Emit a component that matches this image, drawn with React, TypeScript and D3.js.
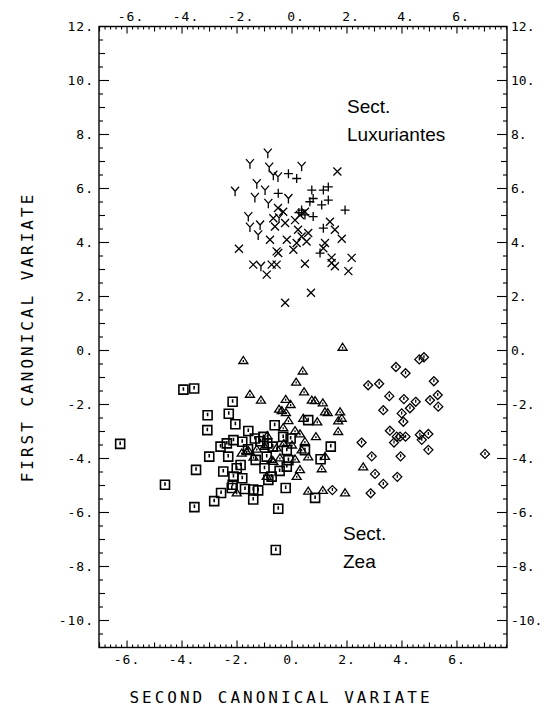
import * as d3 from 'd3';

// canonical variate scores: [second, first]
const luxYMarks = [
  [-0.88, 7.31], [-1.53, 6.92], [-0.83, 6.79], [0.35, 6.82], [-2.07, 5.9], [-1.28, 6.18],
  [-0.98, 5.94], [-1.35, 5.67], [-0.68, 6.49], [-0.51, 6.43], [-0.13, 5.63], [-1.59, 4.96],
  [-1.53, 4.57], [-1.16, 4.65], [-1.23, 4.28], [-1.13, 3.12], [-0.86, 5.45], [-0.47, 4.91],
];
const luxPlusMarks = [
  [-0.13, 6.55], [0.17, 6.37], [0.72, 5.94], [0.77, 5.63], [1.14, 5.94], [1.32, 6.06],
  [1.32, 5.57], [1.08, 5.39], [1.93, 5.2], [0.77, 4.96], [0.47, 5.02], [-0.5, 5.82],
  [1.02, 3.61], [1.14, 4.53], [0.35, 5.2], [0.65, 5.51], [0.25, 5.11],
];
const luxCrossMarks = [
  [1.65, 6.63], [-1.93, 3.77], [-1.41, 3.18], [-0.92, 2.81], [0.47, 3.21], [0.69, 2.14],
  [-0.25, 1.77], [2.17, 3.43], [2.05, 2.94], [1.44, 3.24], [1.44, 3.44], [1.56, 3.12],
  [1.81, 4.14], [1.56, 4.47], [1.38, 4.77], [1.2, 3.98], [1.14, 3.79], [0.59, 4.35],
  [0.35, 4.22], [0.53, 4.04], [0.17, 3.98], [0.05, 3.73], [-0.56, 3.67], [-0.5, 3.61],
  [-0.74, 3.18], [-0.56, 3.18], [-0.8, 4.1], [-0.62, 4.59], [0.22, 4.47], [-0.19, 4.1],
  [-0.68, 4.9], [0.11, 4.83], [0.29, 5.02], [0.47, 5.14], [-0.51, 5.28], [-0.32, 5.14],
  [-0.25, 4.72],
];
const zeaSquares = [
  [-6.25, -3.46], [-4.62, -4.97], [-3.55, -5.8], [-3.95, -1.45], [-3.56, -1.41], [-2.16, -1.9],
  [-3.07, -2.4], [-2.3, -2.34], [-2.06, -2.73], [-3.08, -2.95], [-1.59, -2.98], [-3.01, -3.93],
  [-3.49, -4.42], [-2.83, -5.58], [-2.58, -5.28], [-2.5, -4.48], [-2.32, -3.93], [-2.16, -4.97],
  [-2.01, -4.36], [-1.87, -4.24], [-2.13, -4.67], [-1.81, -4.73], [-1.71, -5.13], [-1.41, -5.15],
  [-1.41, -5.52], [-1.23, -5.18], [-0.5, -5.86], [-0.59, -7.39], [-0.23, -5.09], [-0.63, -2.77],
  [-1.04, -3.2], [-1.35, -3.26], [-1.81, -3.38], [-2.13, -3.32], [-2.37, -3.44], [-0.32, -3.2],
  [-1.32, -4.05], [-0.92, -3.93], [-0.86, -4.79], [-0.74, -4.67], [-0.19, -4.3], [-0.9, -3.44],
  [-2.19, -5.09], [1.41, -3.56], [1.04, -4.03], [0.59, -2.58], [0.47, -3.69], [0.84, -5.46],
  [-0.19, -3.69], [-0.13, -4.06], [-1.15, -3.36], [-0.7, -3.56], [-1.6, -3.66], [-0.45, -4.46],
  [-1.0, -4.36], [-2.6, -3.56], [-0.05, -3.26],
];
const zeaTriangles = [
  [-1.77, -0.37], [-1.53, -1.62], [-1.13, -1.84], [-0.23, -1.81], [0.15, -1.17], [-0.47, -2.17],
  [-0.22, -2.3], [-0.13, -2.6], [0.11, -2.97], [-1.65, -3.74], [-1.83, -3.8], [-0.68, -4.11],
  [-0.92, -4.66], [0.17, -4.66], [-2.01, -5.27], [-1.59, -3.7], [-1.28, -3.65], [-0.74, -4.04],
  [-0.44, -3.98], [-0.56, -3.61], [0.39, -0.76], [0.44, -1.53], [0.72, -1.84], [0.84, -1.86],
  [1.12, -1.94], [-0.37, -2.23], [1.2, -2.27], [1.75, -2.27], [1.81, -2.51], [0.41, -2.51],
  [0.92, -2.64], [1.68, -3.0], [0.29, -3.09], [0.87, -3.19], [0.47, -3.37], [0.35, -3.68],
  [0.59, -3.94], [0.11, -4.02], [1.2, -3.92], [1.08, -4.38], [0.29, -4.41], [0.59, -5.21],
  [1.12, -5.18], [1.93, -5.27], [2.59, -4.31], [1.84, 0.12], [1.68, -2.61], [-0.32, -2.86],
  [-1.0, -3.55], [-0.3, -3.45], [-0.9, -3.15], [0.0, -3.5], [-1.4, -3.95], [-0.05, -2.0],
  [1.3, -2.3],
];
const zeaDiamonds = [
  [3.78, -0.61], [4.13, -0.84], [4.63, -0.33], [4.8, -0.25], [2.77, -1.29], [3.17, -1.23],
  [5.16, -1.14], [3.54, -1.69], [4.07, -1.8], [3.32, -2.21], [3.99, -2.33], [4.29, -2.14],
  [4.5, -1.9], [5.02, -1.84], [5.3, -1.65], [5.32, -2.08], [4.05, -2.64], [3.56, -2.97],
  [3.81, -3.19], [4.13, -3.19], [3.71, -3.41], [4.65, -3.12], [4.96, -3.09], [4.72, -3.31],
  [4.96, -3.68], [3.95, -3.92], [2.53, -3.41], [2.9, -3.92], [3.02, -4.57], [3.32, -4.94],
  [3.83, -4.68], [2.86, -5.29], [1.47, -5.17], [7.02, -3.83], [3.93, -3.19],
];

const xTickValues = [-6, -4, -2, 0, 2, 4, 6];
const yTickValues = [12, 10, 8, 6, 4, 2, 0, -2, -4, -6, -8, -10];
const xTitle = 'SECOND CANONICAL VARIATE';
const yTitle = 'FIRST CANONICAL VARIATE';

// marker shapes, centred on 0,0
const symbolY = 'M0,0L0,5M0,0L-4,-4.5M0,0L4,-4.5';
const symbolPlus = 'M-4.5,0L4.5,0M0,-4.5L0,4.5';
const symbolCross = 'M-4,-4L4,4M-4,4L4,-4';
const symbolSquare = 'M-4.5,-4.5H4.5V4.5H-4.5ZM0,-2.5V1';
const symbolTriangle = 'M0,-4L4.5,3H-4.5ZM0,-0.5V1.5';
const symbolDiamond = 'M0,-4.5L4.5,0L0,4.5L-4.5,0ZM0,-2V1';

export default function App() {
  const width = 545;
  const height = 708;
  const left = 99;
  const right = 507;
  const top = 26.5;
  const bottom = 647.5;

  const x = d3.scaleLinear().domain([-7.02, 7.82]).range([left, right]);
  const y = d3.scaleLinear().domain([-11, 12]).range([bottom, top]);

  // minor ticks: x every 0.2, y every 0.5
  const xMinor = d3.range(-35, 40).map((i) => i / 5);
  const yMinor = d3.range(-22, 25).map((i) => i / 2);

  const xTickLen = (v: number) => {
    const r = Math.round(v * 5);
    if (r % 10 === 0) return 7;
    if (r % 5 === 0) return 5;
    return 3;
  };
  const yTickLen = (v: number) => {
    const r = Math.round(v * 2);
    if (r % 4 === 0) return 10;
    if (r % 2 === 0) return 6;
    return 4;
  };

  const drawMarks = (data: number[][], d: string, key: string, sw = 1.3) =>
    data.map((p, i) => (
      <path
        key={key + i}
        d={d}
        transform={`translate(${x(p[0])},${y(p[1])})`}
        fill="none"
        stroke="#000"
        strokeWidth={sw}
      />
    ));

  const mono = 'DejaVu Sans Mono, monospace';
  const sans = 'Liberation Sans, Arial, sans-serif';

  return (
    <svg
      width={width}
      height={height}
      style={{ position: 'absolute', left: 0, top: 0, background: '#fff' }}
    >
      <rect x={left} y={top} width={right - left} height={bottom - top} fill="none" stroke="#000" strokeWidth={1.4} />

      {/* ticks on all four sides, pointing inward */}
      {xMinor.map((v, i) => (
        <g key={'xt' + i} stroke="#000" strokeWidth={1.1}>
          <line x1={x(v)} x2={x(v)} y1={top} y2={top + xTickLen(v)} />
          <line x1={x(v)} x2={x(v)} y1={bottom} y2={bottom - xTickLen(v)} />
        </g>
      ))}
      {yMinor.map((v, i) => (
        <g key={'yt' + i} stroke="#000" strokeWidth={1.1}>
          <line x1={left} x2={left + yTickLen(v)} y1={y(v)} y2={y(v)} />
          <line x1={right} x2={right - yTickLen(v)} y1={y(v)} y2={y(v)} />
        </g>
      ))}

      {xTickValues.map((v) => (
        <g key={'xl' + v} fontFamily={mono} fontSize={13} textAnchor="middle" letterSpacing={1}>
          <text x={x(v) + 4} y={top - 6}>{v + '.'}</text>
          <text x={x(v)} y={bottom + 16}>{v + '.'}</text>
        </g>
      ))}
      {yTickValues.map((v) => (
        <g key={'yl' + v} fontFamily={mono} fontSize={13}>
          <text x={left - 5} y={y(v)} dy="0.35em" textAnchor="end" letterSpacing={1}>{v + '.'}</text>
          <text x={right + 4} y={y(v)} dy="0.35em" letterSpacing={0}>{v + '.'}</text>
        </g>
      ))}

      <text x={281} y={703} fontFamily={mono} fontSize={16} letterSpacing={3} textAnchor="middle">
        {xTitle}
      </text>
      <text
        transform={`translate(33,${(top + bottom) / 2}) rotate(-90)`}
        fontFamily={mono}
        fontSize={16}
        letterSpacing={3}
        textAnchor="middle"
      >
        {yTitle}
      </text>

      <g fontFamily={sans} fontSize={19}>
        <text x={347} y={113}>Sect.</text>
        <text x={347} y={141}>Luxuriantes</text>
        <text x={343} y={540}>Sect.</text>
        <text x={343} y={568}>Zea</text>
      </g>

      {drawMarks(zeaSquares, symbolSquare, 'sq', 1.6)}
      {drawMarks(zeaTriangles, symbolTriangle, 'tr')}
      {drawMarks(zeaDiamonds, symbolDiamond, 'di')}
      {drawMarks(luxCrossMarks, symbolCross, 'cr')}
      {drawMarks(luxPlusMarks, symbolPlus, 'pl')}
      {drawMarks(luxYMarks, symbolY, 'ym')}
    </svg>
  );
}
